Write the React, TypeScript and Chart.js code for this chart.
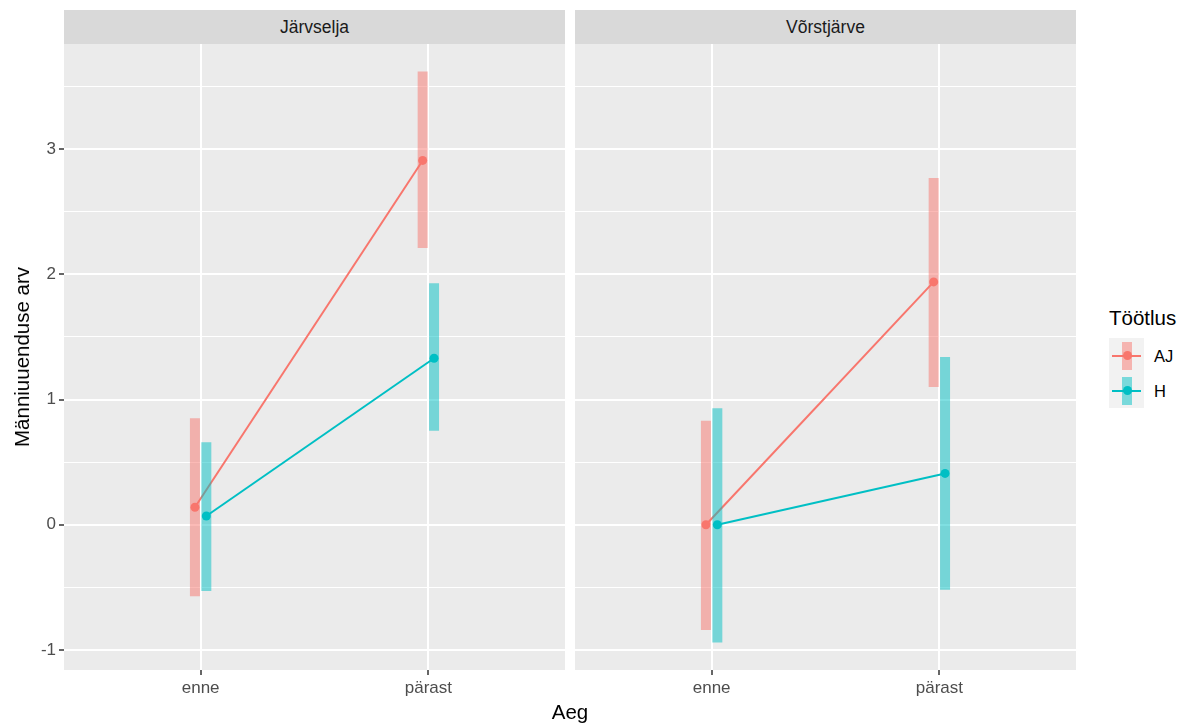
import React, { useEffect, useRef } from "react";
import { Chart, registerables } from "chart.js";
Chart.register(...registerables);

const FONT = '"Liberation Sans", Arial, Helvetica, sans-serif';

const categories = ["enne", "pärast"];
const facets = ["Järvselja", "Võrstjärve"];
const groups = ["AJ", "H"];
const groupColors = ["#F8766D", "#00BFC4"];
const groupBarColors = ["rgba(248,118,109,0.5)", "rgba(0,191,196,0.5)"];
const yMajorTicks = [-1, 0, 1, 2, 3];
const yMin = -1.16;
const yMax = 3.84;

// Järvselja
const jarvseljaAJMean = [0.14, 2.91];
const jarvseljaAJLow = [-0.57, 2.21];
const jarvseljaAJHigh = [0.85, 3.62];
const jarvseljaHMean = [0.07, 1.33];
const jarvseljaHLow = [-0.53, 0.75];
const jarvseljaHHigh = [0.66, 1.93];
// Võrstjärve
const vorstjarveAJMean = [0.0, 1.94];
const vorstjarveAJLow = [-0.84, 1.1];
const vorstjarveAJHigh = [0.83, 2.77];
const vorstjarveHMean = [0.0, 0.41];
const vorstjarveHLow = [-0.94, -0.52];
const vorstjarveHHigh = [0.93, 1.34];

const dodge = [-0.025, 0.025];

const facetTable = [
  [
    { mean: jarvseljaAJMean, low: jarvseljaAJLow, high: jarvseljaAJHigh },
    { mean: jarvseljaHMean, low: jarvseljaHLow, high: jarvseljaHHigh },
  ],
  [
    { mean: vorstjarveAJMean, low: vorstjarveAJLow, high: vorstjarveAJHigh },
    { mean: vorstjarveHMean, low: vorstjarveHLow, high: vorstjarveHHigh },
  ],
];

const yAllTicks = (() => {
  const s = new Set<number>();
  yMajorTicks.forEach((t) => {
    s.add(t);
    [t - 0.5, t + 0.5].forEach((m) => {
      if (m >= yMin && m <= yMax) s.add(m);
    });
  });
  return Array.from(s).sort((a, b) => a - b);
})();

const bgPlugin = {
  id: "panelBg",
  beforeDraw(chart: any) {
    const { ctx, chartArea } = chart;
    ctx.save();
    ctx.fillStyle = "#EBEBEB";
    ctx.fillRect(chartArea.left, chartArea.top, chartArea.right - chartArea.left, chartArea.bottom - chartArea.top);
    ctx.restore();
  },
};

const PANEL_TOP = 44;
const PANEL_H = 626;
const CANVAS_H = 680;

const zeroPad = (scale: any) => {
  scale.paddingTop = 0;
  scale.paddingBottom = 0;
  scale.paddingLeft = 0;
  scale.paddingRight = 0;
};

function Panel({ facet, left, width, showY }: { facet: number; left: number; width: number; showY: boolean }) {
  const ref = useRef<HTMLCanvasElement>(null);
  useEffect(() => {
    const datasets: any[] = [];
    groups.forEach((g, gi) => {
      const d = facetTable[facet][gi];
      categories.forEach((c, ci) => {
        datasets.push({
          type: "line",
          label: g + " " + c,
          data: [
            { x: ci + 1 + dodge[gi], y: d.low[ci] },
            { x: ci + 1 + dodge[gi], y: d.high[ci] },
          ],
          borderColor: groupBarColors[gi],
          borderWidth: 10,
          borderCapStyle: "butt",
          pointRadius: 0,
          order: 0,
        });
      });
    });
    groups.forEach((g, gi) => {
      const d = facetTable[facet][gi];
      datasets.push({
        type: "line",
        label: g,
        data: categories.map((c, ci) => ({ x: ci + 1 + dodge[gi], y: d.mean[ci] })),
        borderColor: groupColors[gi],
        backgroundColor: groupColors[gi],
        borderWidth: 2,
        pointRadius: 4.5,
        pointBorderWidth: 0,
        pointBackgroundColor: groupColors[gi],
        order: 1,
      });
    });
    const isMajor = (v: number) => Number.isInteger(v);
    const chart = new Chart(ref.current as HTMLCanvasElement, {
      type: "line",
      data: { datasets },
      plugins: [bgPlugin],
      options: {
        animation: false,
        responsive: false,
        events: [],
        layout: { padding: 0, autoPadding: false },
        plugins: { legend: { display: false }, tooltip: { enabled: false } },
        scales: {
          x: {
            type: "linear",
            min: 0.4,
            max: 2.6,
            afterBuildTicks: (scale: any) => {
              scale.ticks = categories.map((c, i) => ({ value: i + 1 }));
            },
            afterFit: (scale: any) => {
              scale.height = CANVAS_H - PANEL_H;
              zeroPad(scale);
            },
            border: { display: false },
            grid: {
              color: "#FFFFFF",
              lineWidth: 2,
              tickColor: "#333333",
              tickWidth: 1.5,
              tickLength: 5,
            },
            ticks: {
              color: "#4D4D4D",
              font: { family: FONT, size: 17 },
              padding: 3,
              maxRotation: 0,
              autoSkip: false,
              callback: (v: any) => categories[Math.round(v) - 1] ?? "",
            },
          },
          y: {
            type: "linear",
            min: yMin,
            max: yMax,
            afterBuildTicks: (scale: any) => {
              scale.ticks = yAllTicks.map((v) => ({ value: v }));
            },
            afterFit: (scale: any) => {
              scale.width = showY ? 64 : 0;
              zeroPad(scale);
            },
            border: { display: false },
            grid: {
              color: "#FFFFFF",
              lineWidth: (ctx: any) => (isMajor(ctx.tick.value) ? 2 : 1),
              drawTicks: showY,
              tickColor: (ctx: any) => (isMajor(ctx.tick.value) ? "#333333" : "rgba(0,0,0,0)"),
              tickWidth: 1.5,
              tickLength: 5,
            },
            ticks: {
              display: showY,
              color: "#4D4D4D",
              font: { family: FONT, size: 17 },
              padding: 3,
              autoSkip: false,
              callback: (v: any) => (isMajor(v) ? String(v) : ""),
            },
          },
        },
      } as any,
    });
    return () => chart.destroy();
  }, [facet, showY]);
  return (
    <canvas
      ref={ref}
      width={width}
      height={CANVAS_H}
      style={{ position: "absolute", left, top: PANEL_TOP, width, height: CANVAS_H }}
    />
  );
}

function Strip({ text, left, width }: { text: string; left: number; width: number }) {
  return (
    <div
      style={{
        position: "absolute",
        left,
        top: 10,
        width,
        height: 34,
        background: "#D9D9D9",
        color: "#1A1A1A",
        fontFamily: FONT,
        fontSize: 17.5,
        lineHeight: "34px",
        textAlign: "center",
      }}
    >
      {text}
    </div>
  );
}

function LegendKey({ gi, top }: { gi: number; top: number }) {
  return (
    <div style={{ position: "absolute", left: 1109, top, width: 35, height: 35, background: "#F2F2F2" }}>
      <div style={{ position: "absolute", left: 13, top: 4, width: 10, height: 28, background: groupBarColors[gi] }} />
      <div style={{ position: "absolute", left: 3, top: 16.5, width: 29, height: 2, background: groupColors[gi] }} />
      <div
        style={{
          position: "absolute",
          left: 13.5,
          top: 13,
          width: 9,
          height: 9,
          borderRadius: "50%",
          background: groupColors[gi],
        }}
      />
    </div>
  );
}

export default function App() {
  return (
    <div style={{ position: "absolute", left: 0, top: 0, width: 1185, height: 724, background: "#FFFFFF", overflow: "hidden" }}>
      <Strip text={facets[0]} left={64} width={501} />
      <Strip text={facets[1]} left={575} width={501} />
      <Panel facet={0} left={0} width={565} showY={true} />
      <Panel facet={1} left={575} width={501} showY={false} />
      <div
        style={{
          position: "absolute",
          left: 22,
          top: 357,
          transform: "translate(-50%, -50%) rotate(-90deg)",
          whiteSpace: "nowrap",
          fontFamily: FONT,
          fontSize: 20.5,
          color: "#000000",
        }}
      >
        Männiuuenduse arv
      </div>
      <div
        style={{
          position: "absolute",
          left: 570,
          top: 712,
          transform: "translate(-50%, -50%)",
          whiteSpace: "nowrap",
          fontFamily: FONT,
          fontSize: 20.5,
          color: "#000000",
        }}
      >
        Aeg
      </div>
      <div
        style={{
          position: "absolute",
          left: 1109,
          top: 318,
          transform: "translate(0, -50%)",
          whiteSpace: "nowrap",
          fontFamily: FONT,
          fontSize: 20.5,
          color: "#000000",
        }}
      >
        Töötlus
      </div>
      <LegendKey gi={0} top={338} />
      <LegendKey gi={1} top={373} />
      {groups.map((g, gi) => (
        <div
          key={g}
          style={{
            position: "absolute",
            left: 1154,
            top: 356 + gi * 35,
            transform: "translate(0, -50%)",
            fontFamily: FONT,
            fontSize: 16.5,
            color: "#000000",
          }}
        >
          {g}
        </div>
      ))}
    </div>
  );
}
